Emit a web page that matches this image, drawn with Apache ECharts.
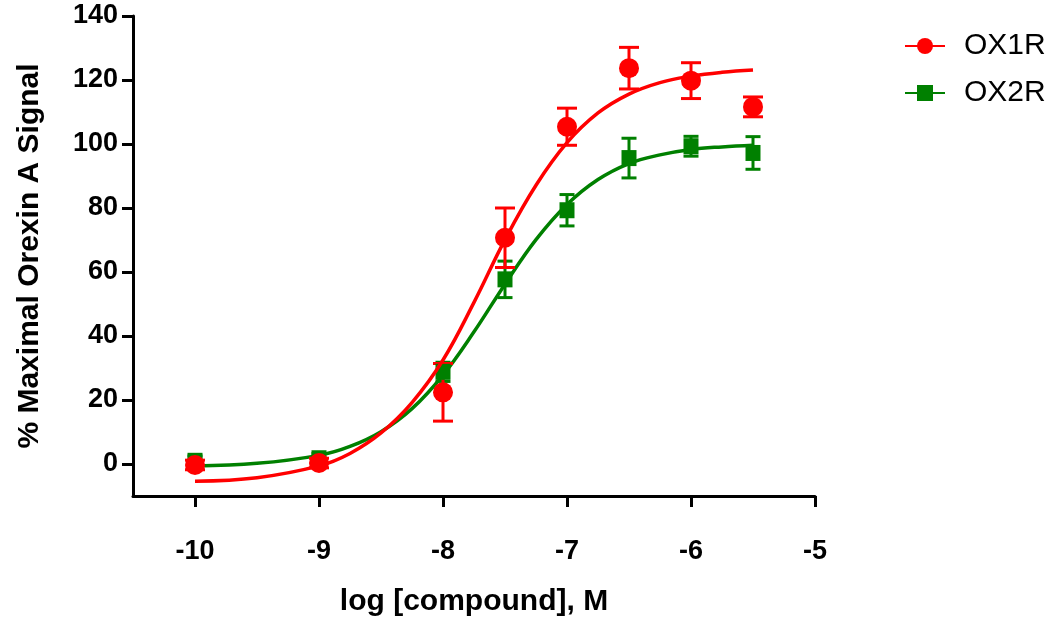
<!DOCTYPE html>
<html>
<head>
<meta charset="utf-8">
<script src="https://cdn.jsdelivr.net/npm/echarts@6/dist/echarts.min.js"></script>
<style>html,body{margin:0;padding:0;background:#fff;}#c{width:1050px;height:622px;}</style>
</head>
<body>
<div id="c"></div>
<script>
// Tick labels
const xTicks = [-10, -9, -8, -7, -6, -5];
const yTicks = [0, 20, 40, 60, 80, 100, 120, 140];
// Measured points (log M)
const doseLog = [-10, -9, -8, -7.5, -7, -6.5, -6, -5.5];
const ox1rMean = [-0.3, 0.3, 22.4, 70.7, 105.4, 123.7, 119.8, 111.6];
const ox1rErr  = [1.5, 1.5, 9.0, 9.3, 5.8, 6.5, 5.6, 3.1];
const ox2rMean = [1.0, 1.8, 28.8, 57.7, 79.3, 95.6, 99.3, 97.2];
const ox2rErr  = [1.5, 1.5, 3.0, 5.7, 4.9, 6.2, 3.1, 5.1];
// Fitted curves
const curveX    = [-10, -9.5, -9, -8.75, -8.5, -8.25, -8, -7.75, -7.5, -7.25, -7, -6.75, -6.5, -6.25, -6, -5.75, -5.5];
const ox1rCurve = [-5.4, -4.3, -0.6, 3.3, 9.7, 19.2, 32.5, 50.5, 70.1, 87.1, 100.4, 109.7, 115.6, 119.2, 121.2, 122.4, 123.1];
const ox2rCurve = [-0.6, 0.2, 2.7, 5.5, 10.1, 17.3, 27.8, 41.3, 56.2, 70.1, 81.1, 88.9, 93.9, 96.6, 98.3, 99.1, 99.6];

const RED = '#FF0000', GREEN = '#008000';
const FONT = 'Liberation Sans, Arial, sans-serif';

function pairs(xs, ys) { return xs.map((x, i) => [x, ys[i]]); }
function errData(xs, ys, es) { return xs.map((x, i) => [x, ys[i], es[i]]); }

function errorBarSeries(name, color, data, capW) {
  return {
    name: name, type: 'custom', z: 3,
    data: data,
    encode: { x: 0, y: 1 },
    renderItem: function (params, api) {
      const x = api.value(0), y = api.value(1), e = api.value(2);
      const top = api.coord([x, y + e]);
      const bot = api.coord([x, y - e]);
      const st = { stroke: color, lineWidth: 3 };
      return {
        type: 'group',
        children: [
          { type: 'line', shape: { x1: top[0], y1: top[1], x2: bot[0], y2: bot[1] }, style: st },
          { type: 'line', shape: { x1: top[0] - capW / 2, y1: top[1], x2: top[0] + capW / 2, y2: top[1] }, style: st },
          { type: 'line', shape: { x1: bot[0] - capW / 2, y1: bot[1], x2: bot[0] + capW / 2, y2: bot[1] }, style: st }
        ]
      };
    }
  };
}

const chart = echarts.init(document.getElementById('c'));
chart.setOption({
  animation: false,
  backgroundColor: '#fff',
  grid: { left: 133, right: 235, top: 16, bottom: 125, containLabel: false },
  legend: {
    left: 899, top: 26, orient: 'vertical',
    itemWidth: 40, itemHeight: 20, itemGap: 17,
    textStyle: { fontFamily: FONT, fontSize: 30, lineHeight: 30, color: '#000', padding: [0, 0, 0, 14] },
    data: ['OX1R', 'OX2R']
  },
  xAxis: {
    type: 'value', min: -10.5, max: -5,
    axisLine: { show: true, onZero: false, lineStyle: { color: '#000', width: 3 } },
    axisTick: { show: true, length: 11, lineStyle: { color: '#000', width: 3 }, customValues: xTicks },
    axisLabel: { customValues: xTicks, margin: 42, fontFamily: FONT, fontWeight: 'bold', fontSize: 27, color: '#000' },
    splitLine: { show: false },
    name: 'log [compound], M', nameLocation: 'middle', nameGap: 91,
    nameTextStyle: { fontFamily: FONT, fontWeight: 'bold', fontSize: 30, color: '#000' }
  },
  yAxis: {
    type: 'value', min: -10, max: 140,
    axisLine: { show: true, onZero: false, lineStyle: { color: '#000', width: 3 } },
    axisTick: { show: true, length: 11, lineStyle: { color: '#000', width: 3 }, customValues: yTicks },
    axisLabel: { customValues: yTicks, margin: 15, fontFamily: FONT, fontWeight: 'bold', fontSize: 27, color: '#000' },
    splitLine: { show: false },
    name: '% Maximal Orexin A Signal', nameLocation: 'middle', nameGap: 88,
    nameTextStyle: { fontFamily: FONT, fontWeight: 'bold', fontSize: 30, color: '#000' }
  },
  series: [
    {
      name: 'OX1R', type: 'line', data: pairs(curveX, ox1rCurve), smooth: 0.4,
      symbol: 'circle', symbolSize: 18, showSymbol: false, z: 4,
      lineStyle: { color: RED, width: 3.5 }, itemStyle: { color: RED, opacity: 1 }
    },
    {
      name: 'OX2R', type: 'line', data: pairs(curveX, ox2rCurve), smooth: 0.4,
      symbol: 'rect', symbolSize: 14, showSymbol: false, z: 2,
      lineStyle: { color: GREEN, width: 3.5 }, itemStyle: { color: GREEN, opacity: 1 }
    },
    errorBarSeries('OX2R', GREEN, errData(doseLog, ox2rMean, ox2rErr), 15),
    { name: 'OX2R', type: 'scatter', z: 3, data: pairs(doseLog, ox2rMean), symbol: 'rect', symbolSize: [15, 16], itemStyle: { color: GREEN, opacity: 1 } },
    errorBarSeries('OX1R', RED, errData(doseLog, ox1rMean, ox1rErr), 20),
    { name: 'OX1R', type: 'scatter', z: 5, data: pairs(doseLog, ox1rMean), symbol: 'circle', symbolSize: 20, itemStyle: { color: RED, opacity: 1 } }
  ]
});
</script>
</body>
</html>
